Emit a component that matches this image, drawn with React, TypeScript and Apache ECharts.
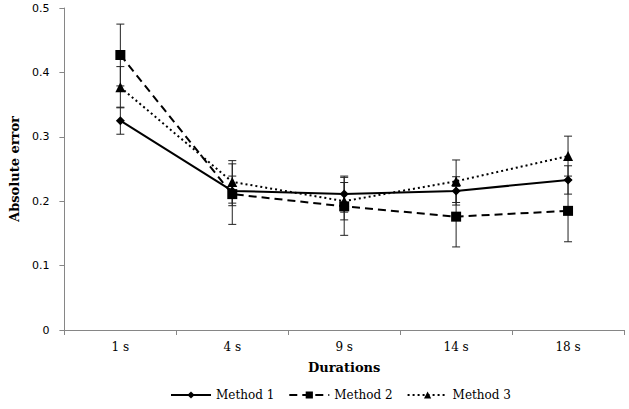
import React, { useEffect, useRef } from "react";
import * as echarts from "echarts";

const categories = ["1 s", "4 s", "9 s", "14 s", "18 s"];
const method1 = [0.325, 0.216, 0.211, 0.216, 0.233];
const method2 = [0.427, 0.211, 0.192, 0.176, 0.185];
const method3 = [0.377, 0.230, 0.200, 0.231, 0.270];
const err1 = [0.021, 0.023, 0.028, 0.022, 0.022];
const err2 = [0.048, 0.047, 0.045, 0.047, 0.048];
const err3 = [0.032, 0.033, 0.029, 0.033, 0.031];
const seriesNames = ["Method 1", "Method 2", "Method 3"];

const SERIF = "'DejaVu Serif', 'Liberation Serif', serif";
const SANS = "'DejaVu Sans', Tahoma, sans-serif";

function errorData(values: number[], errs: number[]) {
  return values.map((v, i) => [i, v - errs[i], v + errs[i]]);
}

function errorSeries(values: number[], errs: number[]) {
  return {
    type: "custom",
    data: errorData(values, errs),
    z: 3,
    silent: true,
    renderItem: (params: any, api: any) => {
      const x = api.value(0);
      const lo = api.coord([x, api.value(1)]);
      const hi = api.coord([x, api.value(2)]);
      const w = 4;
      const style = { stroke: "#222", lineWidth: 1 };
      return {
        type: "group",
        children: [
          { type: "line", shape: { x1: lo[0], y1: lo[1], x2: hi[0], y2: hi[1] }, style },
          { type: "line", shape: { x1: lo[0] - w, y1: lo[1], x2: lo[0] + w, y2: lo[1] }, style },
          { type: "line", shape: { x1: hi[0] - w, y1: hi[1], x2: hi[0] + w, y2: hi[1] }, style },
        ],
      };
    },
  };
}

export default function App() {
  const ref = useRef<HTMLDivElement>(null);
  useEffect(() => {
    if (!ref.current) return;
    const chart = echarts.init(ref.current, undefined, { renderer: "svg" });
    chart.setOption({
      animation: false,
      backgroundColor: "#ffffff",
      grid: { left: 59, right: 5, top: 8, bottom: 79 },
      legend: {
        data: seriesNames,
        left: 165,
        top: 384,
        itemWidth: 40,
        itemHeight: 9,
        itemGap: 14,
        textStyle: { fontFamily: SERIF, fontSize: 12, color: "#000" },
      },
      xAxis: {
        type: "category",
        data: categories,
        boundaryGap: true,
        name: "Durations",
        nameLocation: "middle",
        nameGap: 31,
        nameTextStyle: { fontFamily: SERIF, fontSize: 13, fontWeight: "bold", color: "#000" },
        axisLine: { lineStyle: { color: "#868686", width: 1 } },
        axisTick: { show: true, length: 5, lineStyle: { color: "#868686" } },
        axisLabel: { fontFamily: SERIF, fontSize: 12, color: "#000", margin: 11 },
        splitLine: { show: false },
      },
      yAxis: {
        type: "value",
        min: 0,
        max: 0.5,
        interval: 0.1,
        name: "Absolute error",
        nameLocation: "middle",
        nameGap: 40,
        nameTextStyle: { fontFamily: SERIF, fontSize: 13, fontWeight: "bold", color: "#000" },
        axisLine: { show: true, lineStyle: { color: "#868686", width: 1 } },
        axisTick: { show: true, length: 5, lineStyle: { color: "#868686" } },
        axisLabel: {
          fontFamily: SANS,
          fontSize: 11,
          color: "#000",
          margin: 15,
          formatter: (v: number) => (v === 0 ? "0" : v.toFixed(1)),
        },
        splitLine: { show: false },
      },
      series: [
        errorSeries(method1, err1),
        errorSeries(method2, err2),
        errorSeries(method3, err3),
        {
          name: "Method 1",
          type: "line",
          data: method1,
          symbol: "diamond",
          symbolSize: 9,
          z: 5,
          lineStyle: { color: "#000", width: 2, type: "solid" },
          itemStyle: { color: "#000" },
        },
        {
          name: "Method 2",
          type: "line",
          data: method2,
          symbol: "rect",
          symbolSize: 10,
          z: 5,
          lineStyle: { color: "#000", width: 2, type: [8, 5] },
          itemStyle: { color: "#000" },
        },
        {
          name: "Method 3",
          type: "line",
          data: method3,
          symbol: "triangle",
          symbolSize: 10,
          z: 5,
          lineStyle: { color: "#000", width: 2, type: [2, 3] },
          itemStyle: { color: "#000" },
        },
      ],
    });
    return () => chart.dispose();
  }, []);
  return (
    <div
      ref={ref}
      style={{ position: "absolute", left: 0, top: 0, width: 629, height: 409 }}
    />
  );
}
